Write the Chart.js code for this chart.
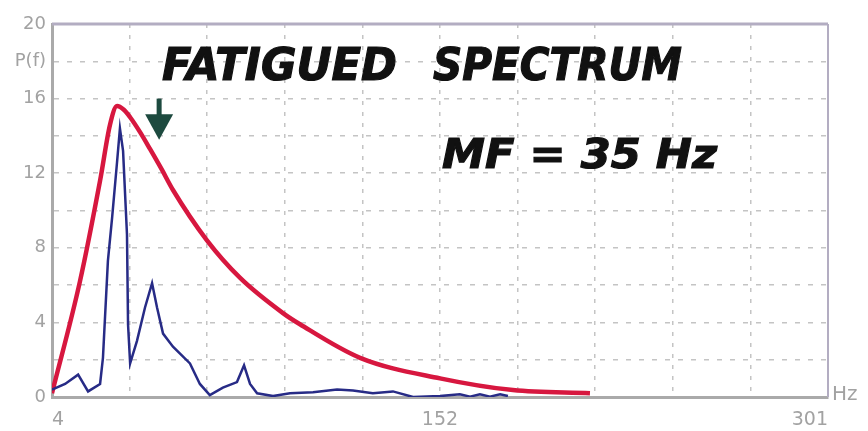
<!DOCTYPE html>
<html>
<head>
<meta charset="utf-8">
<script src="https://cdn.jsdelivr.net/npm/chart.js@4.4.0/dist/chart.umd.min.js"></script>
<style>
  html, body { margin: 0; padding: 0; background: #fff; }
</style>
</head>
<body>
<canvas id="chart" width="868" height="431"></canvas>
<script>
// raw EMG spectrum (blue)
const blueHz  = [4, 9.0, 14.0, 17.8, 22.4, 23.5, 24.3, 25.4, 27.0, 28.9, 30.0, 31.2, 32.7, 33.1, 33.9, 36.5, 39.6, 42.3, 44.2, 46.5, 50.3, 56.8, 60.6, 64.4, 69.4, 74.8, 77.5, 79.8, 82.5, 88.6, 95.1, 103.9, 113.1, 119.2, 126.8, 134.5, 142.2, 152.5, 160.1, 164.0, 167.8, 171.6, 175.5, 178.5];
const bluePow = [0.4, 0.7, 1.2, 0.3, 0.7, 2.1, 4.3, 7.3, 9.6, 12.6, 14.4, 13.2, 8.7, 3.9, 1.8, 3.0, 4.8, 6.1, 4.8, 3.4, 2.7, 1.8, 0.7, 0.1, 0.5, 0.8, 1.7, 0.7, 0.2, 0.05, 0.2, 0.25, 0.4, 0.35, 0.2, 0.3, 0.0, 0.05, 0.15, 0.02, 0.15, 0.02, 0.15, 0.05];
// fitted spectrum envelope (red)
const redHz  = [4, 14.7, 22.4, 26.2, 28.9, 31.5, 33.9, 37.7, 41.5, 46.0, 50.3, 63.3, 75.9, 92.4, 98.9, 121.9, 152.5, 180.4, 209.9];
const redPow = [0.2, 6.2, 11.6, 14.6, 15.6, 15.4, 15.0, 14.2, 13.3, 12.2, 11.1, 8.4, 6.4, 4.5, 3.9, 2.1, 1.0, 0.37, 0.2];

const xTicks = [4, 33.7, 63.4, 93.1, 122.8, 152.5, 182.2, 211.9, 241.6, 271.3, 301];
const xTickLabels = { 4: '4', 152.5: '152', 301: '301' };
const yTickLabels = { 20: '20', 18: 'P(f)', 16: '16', 12: '12', 8: '8', 4: '4', 0: '0' };
const titleWords = ['FATIGUED', 'SPECTRUM'];
const mfText = 'MF = 35 Hz';
const unitText = 'Hz';
const arrowHz = 45, arrowTop = 16, arrowTip = 13.8;

const GRAY = '#a2a2a2';

function fitText(ctx, txt, x, base, w, font) {
  ctx.save();
  ctx.font = font;
  const m = ctx.measureText(txt).width;
  ctx.translate(x, base);
  ctx.scale(w / m, 1);
  ctx.fillStyle = '#111';
  ctx.strokeStyle = '#111';
  ctx.lineWidth = 1.2;
  ctx.fillText(txt, 0, 0);
  ctx.strokeText(txt, 0, 0);
  ctx.restore();
}

const decor = {
  id: 'decor',
  afterDraw(chart) {
    const { ctx, chartArea: a, scales: { x, y } } = chart;
    // frame top + right
    ctx.save();
    ctx.strokeStyle = '#b3adc2';
    ctx.lineWidth = 3;
    ctx.beginPath();
    ctx.moveTo(a.left, a.top);
    ctx.lineTo(a.right, a.top);
    ctx.stroke();
    ctx.lineWidth = 2;
    ctx.beginPath();
    ctx.moveTo(a.right, a.top);
    ctx.lineTo(a.right, a.bottom);
    ctx.stroke();
    ctx.restore();

    // titles
    const f = 'italic bold 44px "DejaVu Sans"';
    fitText(ctx, titleWords[0], 162, 80, 235, f);
    fitText(ctx, titleWords[1], 433, 80, 249, f);
    fitText(ctx, mfText, 442, 168, 275, 'italic bold 41px "DejaVu Sans"');

    // arrow
    const ax = x.getPixelForValue(arrowHz);
    const y0 = y.getPixelForValue(arrowTop);
    const y1 = y.getPixelForValue(arrowTip);
    const headH = (y1 - y0) * 0.62;
    ctx.save();
    ctx.fillStyle = '#1d4a3f';
    ctx.fillRect(ax - 2.5, y0, 5, y1 - y0 - headH + 1);
    ctx.beginPath();
    ctx.moveTo(ax - 14, y1 - headH);
    ctx.lineTo(ax + 14, y1 - headH);
    ctx.lineTo(ax, y1);
    ctx.closePath();
    ctx.fill();
    ctx.restore();

    // unit label
    ctx.save();
    ctx.font = '20px "DejaVu Sans"';
    ctx.fillStyle = GRAY;
    ctx.textAlign = 'left';
    ctx.textBaseline = 'alphabetic';
    ctx.fillText(unitText, a.right + 4, a.bottom + 3);
    ctx.restore();
  }
};

new Chart(document.getElementById('chart').getContext('2d'), {
  type: 'line',
  data: {
    datasets: [
      {
        label: 'EMG',
        data: blueHz.map((h, i) => ({ x: h, y: bluePow[i] })),
        borderColor: '#272b86',
        borderWidth: 2.5,
        pointRadius: 0,
        tension: 0
      },
      {
        label: 'Fit',
        data: redHz.map((h, i) => ({ x: h, y: redPow[i] })),
        borderColor: '#d7173f',
        borderWidth: 4.5,
        pointRadius: 0,
        cubicInterpolationMode: 'monotone'
      }
    ]
  },
  options: {
    responsive: false,
    animation: false,
    devicePixelRatio: 1,
    layout: { padding: { top: 24, right: 40, left: 0, bottom: 0 } },
    plugins: { legend: { display: false }, tooltip: { enabled: false } },
    scales: {
      x: {
        type: 'linear',
        min: 4,
        max: 301,
        afterFit(s) { s.height = 34; },
        afterBuildTicks(s) { s.ticks = xTicks.map(v => ({ value: v })); },
        ticks: {
          autoSkip: false,
          maxRotation: 0,
          align: 'inner',
          padding: 12,
          color: GRAY,
          font: { family: 'DejaVu Sans', size: 19 },
          callback: v => xTickLabels[v] || ''
        },
        grid: { color: '#c4c4c4', lineWidth: 1.5, drawTicks: false },
        border: { color: '#aaaaaa', width: 3, dash: [4, 7] }
      },
      y: {
        min: 0,
        max: 20,
        afterFit(s) { s.width = 52; },
        ticks: {
          stepSize: 2,
          padding: 6,
          color: GRAY,
          font: { family: 'DejaVu Sans', size: 18 },
          callback: v => (v in yTickLabels ? yTickLabels[v] : '')
        },
        grid: { color: '#c4c4c4', lineWidth: 1.5, drawTicks: false },
        border: { color: '#aaaaaa', width: 3, dash: [5, 8] }
      }
    }
  },
  plugins: [decor]
});
</script>
</body>
</html>
